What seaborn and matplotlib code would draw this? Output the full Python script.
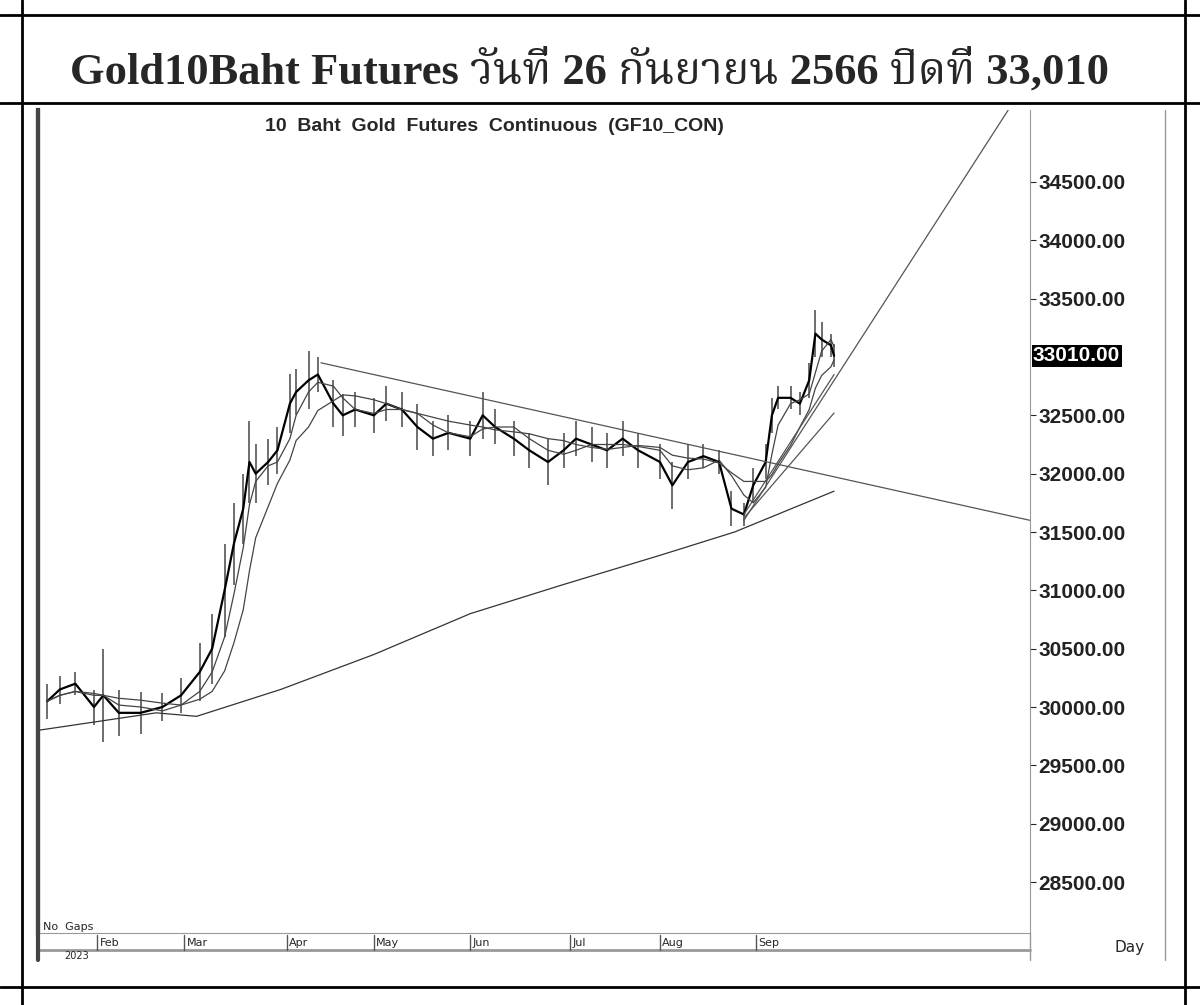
import numpy as np
import pandas as pd
import seaborn as sns
import matplotlib.pyplot as plt
import matplotlib.dates as mdates

# data
dates = ['2023-01-16', '2023-01-20', '2023-01-25', '2023-01-31', '2023-02-03', '2023-02-08',
         '2023-02-15', '2023-02-22', '2023-02-28', '2023-03-06', '2023-03-10', '2023-03-14',
         '2023-03-17', '2023-03-20', '2023-03-22', '2023-03-24', '2023-03-28', '2023-03-31',
         '2023-04-04', '2023-04-06', '2023-04-10', '2023-04-13', '2023-04-18', '2023-04-21',
         '2023-04-25', '2023-05-01', '2023-05-05', '2023-05-10', '2023-05-15', '2023-05-20',
         '2023-05-25', '2023-06-01', '2023-06-05', '2023-06-09', '2023-06-15', '2023-06-20',
         '2023-06-26', '2023-07-01', '2023-07-05', '2023-07-10', '2023-07-15', '2023-07-20',
         '2023-07-25', '2023-08-01', '2023-08-05', '2023-08-10', '2023-08-15', '2023-08-20',
         '2023-08-24', '2023-08-28', '2023-08-31', '2023-09-04', '2023-09-06', '2023-09-08',
         '2023-09-12', '2023-09-15', '2023-09-18', '2023-09-20', '2023-09-22', '2023-09-25',
         '2023-09-26']
close = [30050, 30150, 30200, 30000, 30100, 29950, 29950, 30000, 30100, 30300, 30500, 31000,
         31400, 31700, 32100, 32000, 32100, 32200, 32600, 32700, 32800, 32850, 32600, 32500,
         32550, 32500, 32600, 32550, 32400, 32300, 32350, 32300, 32500, 32400, 32300, 32200,
         32100, 32200, 32300, 32250, 32200, 32300, 32200, 32100, 31900, 32100, 32150, 32100,
         31700, 31650, 31900, 32100, 32500, 32650, 32650, 32600, 32800, 33200, 33150, 33100,
         33010]
spread = [150, 120, 100, 150, 400, 200, 180, 120, 150, 250, 300, 400, 350, 300, 350, 250, 200,
          200, 250, 200, 250, 150, 200, 180, 150, 150, 150, 150, 200, 150, 150, 150, 200, 150,
          150, 150, 200, 150, 150, 150, 150, 150, 150, 150, 200, 150, 100, 100, 150, 100, 150,
          150, 150, 100, 100, 100, 150, 200, 150, 100, 100]

long_ma_dates = ['2023-01-13', '2023-02-20', '2023-03-05', '2023-04-01', '2023-05-01',
                 '2023-06-01', '2023-07-01', '2023-08-01', '2023-08-25', '2023-09-26']
long_ma = [29800, 29950, 29920, 30150, 30450, 30800, 31050, 31300, 31500, 31850]

trend_lines = [
    (['2023-04-14', '2023-11-28'], [32950, 31600]),
    (['2023-08-28', '2023-11-21'], [31600, 35117]),
    (['2023-08-28', '2023-09-26'], [31620, 32520]),
    (['2023-08-28', '2023-09-26'], [31650, 32850]),
]

yticks = [28500, 29000, 29500, 30000, 30500, 31000, 31500, 32000, 32500, 33500, 34000, 34500]
months = ['Feb', 'Mar', 'Apr', 'May', 'Jun', 'Jul', 'Aug', 'Sep']
month_starts = ['2023-02-01', '2023-03-01', '2023-04-03', '2023-05-01', '2023-06-01',
                '2023-07-03', '2023-08-01', '2023-09-01']

df = pd.DataFrame({'date': pd.to_datetime(dates), 'close': close, 'spread': spread})
df['ma1'] = df['close'].rolling(3, min_periods=1).mean()
df['ma2'] = df['close'].rolling(6, min_periods=1).mean()
ma_df = pd.DataFrame({'date': pd.to_datetime(long_ma_dates), 'ma': long_ma})

sns.set_style('white')
plt.rcParams['font.family'] = ['Liberation Serif', 'Noto Sans', 'DejaVu Sans']

fig = plt.figure(figsize=(12, 10.05), dpi=100)
W, H = 1200, 1005

# page table lines
for y in [15, 103, 987]:
    fig.add_artist(plt.Line2D([0, 1], [1 - y / H, 1 - y / H], color='black', lw=2))
for x in [22, 1185]:
    fig.add_artist(plt.Line2D([x / W, x / W], [0, 1], color='black', lw=2))
fig.text(590 / W, 1 - 70 / H, 'Gold10Baht Futures วันที่ 26 กันยายน 2566 ปิดที่ 33,010',
         ha='center', va='center', fontsize=32, fontweight='bold',
         family=['Liberation Serif', 'Noto Serif Thai', 'Noto Sans Thai', 'DejaVu Sans'])

ax = fig.add_axes([38 / W, 1 - 933 / H, 992 / W, 823 / H])
ax.vlines(df['date'], df['close'] - df['spread'], df['close'] + df['spread'], color='#555555', lw=1.2)
sns.lineplot(data=df, x='date', y='close', ax=ax, color='black', lw=1.6)
sns.lineplot(data=df, x='date', y='ma1', ax=ax, color='#444444', lw=0.9)
sns.lineplot(data=df, x='date', y='ma2', ax=ax, color='#444444', lw=0.9)
sns.lineplot(data=ma_df, x='date', y='ma', ax=ax, color='#333333', lw=0.9)
for xs, ys in trend_lines:
    ax.plot(pd.to_datetime(xs), ys, color='#555555', lw=0.9)

ax.set_xlim(pd.Timestamp('2023-01-13'), pd.Timestamp('2023-11-28'))
ax.set_ylim(28063, 35117)
ax.set_xlabel('')
ax.set_ylabel('')
ax.set_xticks([])
ax.yaxis.tick_right()
ax.set_yticks(yticks)
ax.set_yticklabels([f'{v:.2f}' for v in yticks], fontsize=15, fontweight='bold',
                   family='Liberation Sans', color='#222222')
ax.tick_params(axis='y', length=4, pad=2)
ax.spines['top'].set_visible(False)
ax.spines['left'].set_linewidth(3)
ax.spines['right'].set_color('#999999')
ax.spines['bottom'].set_color('#999999')
ax.text(0.46, 0.99, '10  Baht  Gold  Futures  Continuous  (GF10_CON)', transform=ax.transAxes,
        fontsize=14, fontweight='bold', family='Liberation Sans', ha='center', va='top')
ax.text(1.003, 33010, '33010.00', transform=ax.get_yaxis_transform(), fontsize=15,
        fontweight='bold', family='Liberation Sans', color='white', va='center',
        bbox=dict(facecolor='black', edgecolor='none', pad=1))
ax.text(0.005, 0.004, 'No  Gaps', transform=ax.transAxes, fontsize=8, family='Liberation Sans Narrow')

# date strip
fig.add_artist(plt.Line2D([38 / W, 1030 / W], [1 - 950 / H, 1 - 950 / H], color='#999999', lw=2))
fig.add_artist(plt.Line2D([1165 / W, 1165 / W], [1 - 960 / H, 1 - 110 / H], color='#999999', lw=1))
fig.add_artist(plt.Line2D([1030 / W, 1030 / W], [1 - 960 / H, 1 - 933 / H], color='#999999', lw=1))
fig.add_artist(plt.Line2D([38 / W, 38 / W], [1 - 960 / H, 1 - 110 / H], color='#444444', lw=3))
for m, d in zip(months, month_starts):
    xd = mdates.date2num(pd.Timestamp(d))
    xp = ax.transData.transform((xd, 0))[0] / fig.dpi / 12
    fig.add_artist(plt.Line2D([xp, xp], [1 - 950 / H, 1 - 935 / H], color='#555555', lw=1))
    fig.text(xp + 0.002, 1 - 943 / H, m, fontsize=8, va='center', family='Liberation Sans Narrow')
fig.text(64 / W, 1 - 956 / H, '2023', fontsize=7, va='center', family='Liberation Sans Narrow')
fig.text(1130 / W, 1 - 947 / H, 'Day', fontsize=11, va='center', ha='center', family='Liberation Sans Narrow')

fig.savefig('out.png', dpi=100)
